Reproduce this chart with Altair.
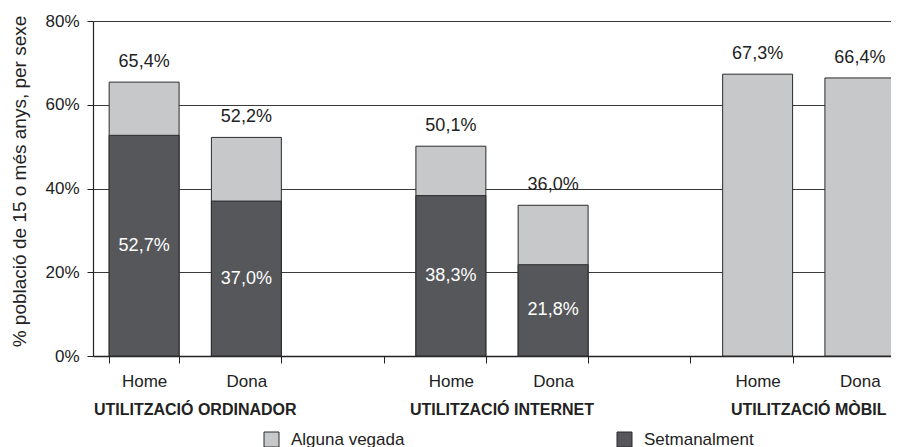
import altair as alt
import pandas as pd

# ---- data ----
group_keys = ["ORD", "INT", "MOB"]
group_names = ["UTILITZACIÓ ORDINADOR", "UTILITZACIÓ INTERNET", "UTILITZACIÓ MÒBIL"]
sexes = ["Home", "Dona"]
alguna_vegada = [65.4, 52.2, 50.1, 36.0, 67.3, 66.4]
setmanalment = [52.7, 37.0, 38.3, 21.8, None, None]
y_ticks = [0, 20, 40, 60, 80]
series_names = ["Alguna vegada", "Setmanalment"]
series_colors = ["#c7c8ca", "#56575a"]
y_title = "% població de 15 o més anys, per sexe"

# ---- tables ----
domain = []
for i, k in enumerate(group_keys):
    domain += [f"{k}|{s}" for s in sexes]
    if i < len(group_keys) - 1:
        domain.append(f"gap{i}")

cats = [f"{k}|{s}" for k in group_keys for s in sexes]
rows = []
for c, v in zip(cats, alguna_vegada):
    rows.append({"cat": c, "serie": series_names[0], "value": v})
for c, v in zip(cats, setmanalment):
    if v is not None:
        rows.append({"cat": c, "serie": series_names[1], "value": v})
df = pd.DataFrame(rows)
df_groups = pd.DataFrame({"cat": [f"{k}|{sexes[0]}" for k in group_keys], "name": group_names})

FONT = "Liberation Sans"
DARK = "#222222"

PLOT_W = 798      # visible plot width
BAND_RANGE = 818  # the category axis runs past the right edge (cropped, as in the reference)
STEP = BAND_RANGE / len(domain)

x_enc = alt.X(
    "cat:N",
    scale=alt.Scale(domain=domain, range=[0, BAND_RANGE], paddingInner=0.316, paddingOuter=0.158),
    axis=alt.Axis(
        title=None, tickBand="extent", labelAngle=0,
        labelExpr="isString(datum.value) && indexof(datum.value, '|') >= 0 ? split(datum.value, '|')[1] : ''",
        labelFontSize=17, labelFont=FONT, labelColor=DARK, labelPadding=10,
        tickSize=7, tickColor=DARK, domainColor=DARK, domainWidth=1.5, grid=False,
    ),
)

y_axis = alt.Axis(
    values=y_ticks, labelExpr="datum.value + '%'", title=y_title,
    titleFontSize=19, titleFontWeight="normal", titleFont=FONT, titleColor=DARK, titlePadding=15,
    titleY=160,
    labelFontSize=17, labelFont=FONT, labelColor=DARK, labelPadding=8,
    tickSize=6, tickColor=DARK, domainColor=DARK, domainWidth=1.2,
    grid=True, gridColor="#3a3a3a", gridWidth=1.2, gridOpacity=1,
)
y_scale = alt.Scale(domain=[0, 80], nice=False)

color_enc = alt.Color(
    "serie:N",
    scale=alt.Scale(domain=series_names, range=series_colors),
    legend=alt.Legend(
        title=None, orient="none", legendX=170, legendY=410, direction="horizontal",
        symbolType="square", symbolSize=225, symbolStrokeColor="#2b2b2b", symbolStrokeWidth=1,
        symbolOpacity=1, labelFontSize=17, labelFont=FONT, labelColor=DARK, labelOffset=11,
        columnPadding=210, padding=0,
    ),
)

base = alt.Chart(df)

light = base.transform_filter(alt.datum.serie == series_names[0]).mark_bar(
    stroke="#2b2b2b", strokeWidth=1, opacity=1
).encode(
    x=x_enc,
    y=alt.Y("value:Q", stack=None, scale=y_scale, axis=y_axis),
    color=color_enc,
)

dark = base.transform_filter(alt.datum.serie == series_names[1]).mark_bar(
    stroke="#2b2b2b", strokeWidth=1, opacity=1
).encode(
    x=x_enc,
    y=alt.Y("value:Q", stack=None, scale=y_scale, axis=y_axis),
    color=color_enc,
)

lbl_expr = "replace(format(datum.value, '.1f'), '.', ',') + '%'"

tot_text = base.transform_filter(alt.datum.serie == series_names[0]).transform_calculate(
    lbl=lbl_expr
).mark_text(dy=-20, fontSize=18, font=FONT, color=DARK, baseline="middle").encode(
    x=x_enc,
    y=alt.Y("value:Q", stack=None, scale=y_scale, axis=y_axis),
    text="lbl:N",
)

wk_text = base.transform_filter(alt.datum.serie == series_names[1]).transform_calculate(
    lbl=lbl_expr, mid="datum.value / 2"
).mark_text(fontSize=18, font=FONT, color="white", baseline="middle").encode(
    x=x_enc,
    y=alt.Y("mid:Q", stack=None, scale=y_scale, axis=y_axis),
    text="lbl:N",
)

grp_text = alt.Chart(df_groups).mark_text(
    dx=STEP / 2, fontSize=16, font=FONT, fontWeight="bold", color=DARK,
    baseline="middle",
).encode(
    x=x_enc,
    y=alt.value(389),
    text="name:N",
)

chart = alt.layer(light, dark, tot_text, wk_text, grp_text).properties(
    width=PLOT_W, height=335,
    autosize=alt.AutoSizeParams(type="none"),
    padding={"left": 85, "top": 13, "right": 0, "bottom": 91},
).configure(font=FONT).configure_view(strokeWidth=0)

chart.save("out.html", embed_options={"renderer": "svg", "actions": False})
